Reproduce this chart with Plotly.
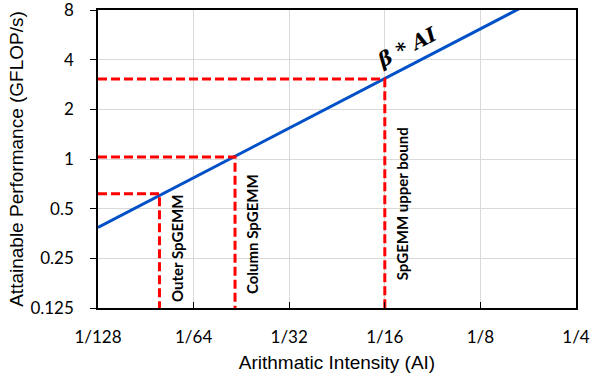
import math
import plotly.graph_objects as go

# ---- data ----
line_ai = [1/128, 1/4]
line_perf = [0.385, 12.3]

point_names = ["Outer SpGEMM", "Column SpGEMM", "SpGEMM upper bound"]
point_ai = [0.0122, 0.0211, 0.0625]
point_perf = [0.615, 1.03, 3.05]

x_tickvals = [1/128, 1/64, 1/32, 1/16, 1/8, 1/4]
x_ticktext = ["1/128", "1/64", "1/32", "1/16", "1/8", "1/4"]
y_tickvals = [0.125, 0.25, 0.5, 1, 2, 4, 8]
y_ticktext = ["0.125", "0.25", "0.5", "1", "2", "4", "8"]

x_min, x_max = 1/128, 1/4
y_min, y_max = 0.125, 8

fig = go.Figure()

fig.add_trace(go.Scatter(x=line_ai, y=line_perf, mode="lines",
                         line=dict(color="#0050C8", width=3), showlegend=False))

for ai, pf in zip(point_ai, point_perf):
    fig.add_trace(go.Scatter(x=[x_min, ai, ai], y=[pf, pf, y_min], mode="lines",
                             line=dict(color="#FF0000", width=3, dash="9px,4px"),
                             showlegend=False))

label_shift = [4, 12, 26]
for name, ai, ys in zip(point_names, point_ai, label_shift):
    fig.add_annotation(x=math.log10(ai), y=0, xref="x", yref="paper",
                       text=name, textangle=-90, showarrow=False,
                       xanchor="center", yanchor="bottom", xshift=17, yshift=ys,
                       font=dict(family="Lato", size=15, color="black", weight="bold"))

fig.add_annotation(x=math.log10(0.0735), y=math.log10(4.76), xref="x", yref="y",
                   text="<b><i>β * AI</i></b>", textangle=-27, showarrow=False,
                   font=dict(family="DejaVu Serif", size=20, color="black"))

axis_common = dict(showgrid=True, gridcolor="#D9D9D9", gridwidth=1,
                   showline=True, linecolor="black", linewidth=1.5, mirror=True,
                   ticklen=6, tickcolor="black", zeroline=False, automargin=False,
                   ticklabeloverflow="allow",
                   tickfont=dict(family="Lato", size=17, color="black"))

fig.update_xaxes(type="log", range=[math.log10(x_min), math.log10(x_max)],
                 tickvals=x_tickvals, ticktext=x_ticktext, ticks="inside",
                 ticklabelstandoff=13,
                 title=dict(text="Arithmatic Intensity (AI)", standoff=10,
                            font=dict(family="Liberation Sans", size=19, color="black")),
                 **axis_common)
fig.update_yaxes(type="log", range=[math.log10(y_min), math.log10(y_max)],
                 tickvals=y_tickvals, ticktext=y_ticktext, ticks="outside",
                 ticklabelstandoff=13,
                 title=dict(text="Attainable Performance (GFLOP/s)", standoff=2,
                            font=dict(family="Liberation Sans", size=19, color="black")),
                 **axis_common)

fig.update_layout(width=593, height=381, margin=dict(l=98, r=17, t=10, b=73),
                  plot_bgcolor="white", paper_bgcolor="white")

fig.write_html("out.html", config={"displayModeBar": False},
               post_script="document.body.style.margin='0';document.body.style.overflow='hidden';")
